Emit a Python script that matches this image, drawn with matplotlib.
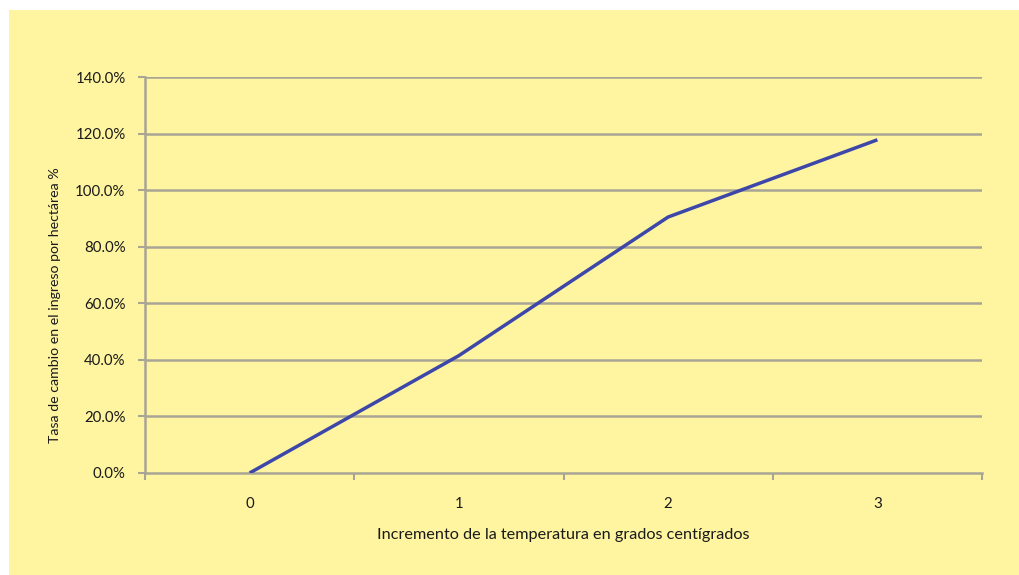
import matplotlib
matplotlib.use("Agg")
import matplotlib.pyplot as plt
from matplotlib.patches import Rectangle
from matplotlib.ticker import FuncFormatter, FixedLocator

categories = [0, 1, 2, 3]
values = [0.0, 41.5, 90.5, 117.8]
yticks = [0, 20, 40, 60, 80, 100, 120, 140]

plt.rcParams['font.family'] = ['Lato', 'DejaVu Sans']

fig = plt.figure(figsize=(10.19, 5.75), dpi=100)
fig.patch.set_facecolor('white')
fig.add_artist(Rectangle((9/1019, 0), 1 - 9/1019, 1 - 10/575, transform=fig.transFigure,
                         facecolor='#FFF5A0', edgecolor='none', zorder=0))

ax = fig.add_axes([145/1019, (575-473)/575, (982-145)/1019, (473-77)/575])
ax.set_facecolor('none')

grid_c = '#A8A595'
txt_c = '#1A1A1A'
ax.plot(range(len(categories)), values, color='#3D47A9', linewidth=2.5, zorder=3,
        solid_capstyle='butt')

ax.set_xlim(-0.5, len(categories) - 0.5)
ax.set_ylim(0, 140)
ax.set_yticks(yticks)
ax.yaxis.set_major_formatter(FuncFormatter(lambda v, p: f"{v:.1f}%"))
ax.set_xticks(range(len(categories)))
ax.set_xticklabels([str(c) for c in categories])
ax.xaxis.set_minor_locator(FixedLocator([i - 0.5 for i in range(len(categories) + 1)]))

for yv in yticks[1:]:
    ax.axhline(yv, color=grid_c, linewidth=1.8, zorder=1)

for s in ['top', 'right']:
    ax.spines[s].set_visible(False)
ax.spines['left'].set_color(grid_c)
ax.spines['left'].set_linewidth(1.8)
ax.spines['bottom'].set_color(grid_c)
ax.spines['bottom'].set_linewidth(1.8)

ax.tick_params(axis='y', length=5, width=1.5, color=grid_c, labelsize=10.8, labelcolor=txt_c, pad=9)
ax.tick_params(axis='x', which='major', length=0, labelsize=10.8, labelcolor=txt_c, pad=17)
ax.tick_params(axis='x', which='minor', length=5, width=1.5, color=grid_c)

ax.set_xlabel('Incremento de la temperatura en grados centígrados', fontsize=11.7, color=txt_c)
ax.xaxis.set_label_coords(0.5, -(535 - 473) / 396, transform=ax.transAxes)
ax.xaxis.label.set_va('center')
ax.set_ylabel('Tasa de cambio en el ingreso por hectárea %', fontsize=10.2, color=txt_c)
ax.yaxis.set_label_coords((55 - 145) / 837, (473 - 305) / 396)
ax.yaxis.label.set_va('center')

fig.savefig('out.png', dpi=100)
